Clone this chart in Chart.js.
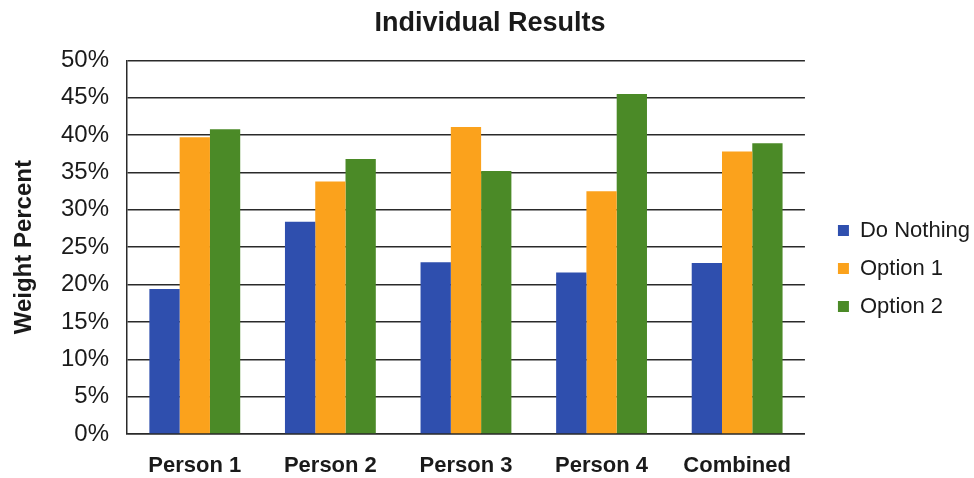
<!DOCTYPE html>
<html>
<head>
<meta charset="utf-8">
<script src="https://cdn.jsdelivr.net/npm/chart.js@4/dist/chart.umd.min.js"></script>
<style>
html,body{margin:0;padding:0;background:#fff;}
#wrap{width:974px;height:478px;position:relative;}
</style>
</head>
<body>
<div id="wrap"><canvas id="c" width="974" height="478"></canvas></div>
<script>
const categories = ["Person 1", "Person 2", "Person 3", "Person 4", "Combined"];
const doNothing = [19.4, 28.4, 23.0, 21.6, 22.9];
const option1 = [39.7, 33.8, 41.1, 32.5, 37.8];
const option2 = [40.8, 36.8, 35.2, 45.5, 38.9];
const seriesNames = ["Do Nothing", "Option 1", "Option 2"];
const yTicks = [0, 5, 10, 15, 20, 25, 30, 35, 40, 45, 50];

const colors = ["#2f4fae", "#fba21c", "#4b8a27"];
const FF = "Liberation Sans, Arial, sans-serif";

new Chart(document.getElementById('c'), {
  type: 'bar',
  data: {
    labels: categories,
    datasets: [
      { label: seriesNames[0], data: doNothing, backgroundColor: colors[0] },
      { label: seriesNames[1], data: option1, backgroundColor: colors[1] },
      { label: seriesNames[2], data: option2, backgroundColor: colors[2] }
    ]
  },
  options: {
    responsive: false,
    animation: false,
    layout: { padding: { left: 0, right: -6, top: 0, bottom: 0 } },
    datasets: { bar: { categoryPercentage: 0.67, barPercentage: 1.0 } },
    plugins: {
      title: {
        display: true,
        text: "Individual Results",
        color: "#1a1a1a",
        font: { family: FF, size: 27, weight: "bold" },
        padding: { top: 7, bottom: 21 }
      },
      legend: {
        position: 'right',
        title: { display: true, text: ' ', font: { size: 10 }, padding: { top: 47, bottom: 0 } },
        labels: {
          boxWidth: 11, boxHeight: 11,
          color: "#1a1a1a",
          padding: 16,
          font: { family: FF, size: 22 }
        }
      },
      tooltip: { enabled: false }
    },
    scales: {
      x: {
        grid: { display: false, drawTicks: false },
        border: { display: true, color: "#2a2a2a", width: 1.5 },
        ticks: {
          color: "#1a1a1a",
          padding: 19,
          maxRotation: 0,
          font: { family: FF, size: 22, weight: "bold" }
        },
        afterFit: (s) => { s.height = 44; }
      },
      y: {
        min: 0, max: 50,
        afterBuildTicks: (axis) => { axis.ticks = yTicks.map(v => ({ value: v })); },
        grid: { color: "#2a2a2a", lineWidth: 1.5, drawTicks: false },
        border: { display: true, color: "#2a2a2a", width: 1.5 },
        title: {
          display: true,
          text: "Weight Percent",
          color: "#1a1a1a",
          font: { family: FF, size: 24, weight: "bold" },
          padding: { top: 10, bottom: 10 }
        },
        ticks: {
          color: "#1a1a1a",
          padding: 18,
          callback: (v) => v + "%",
          font: { family: FF, size: 24 }
        },
        afterFit: (s) => { s.width = 127; }
      },
      gap: {
        position: 'right',
        display: true,
        grid: { display: false, drawTicks: false },
        border: { display: false },
        ticks: { display: false },
        afterFit: (s) => { s.width = 17; }
      }
    }
  }
});
</script>
</body>
</html>
